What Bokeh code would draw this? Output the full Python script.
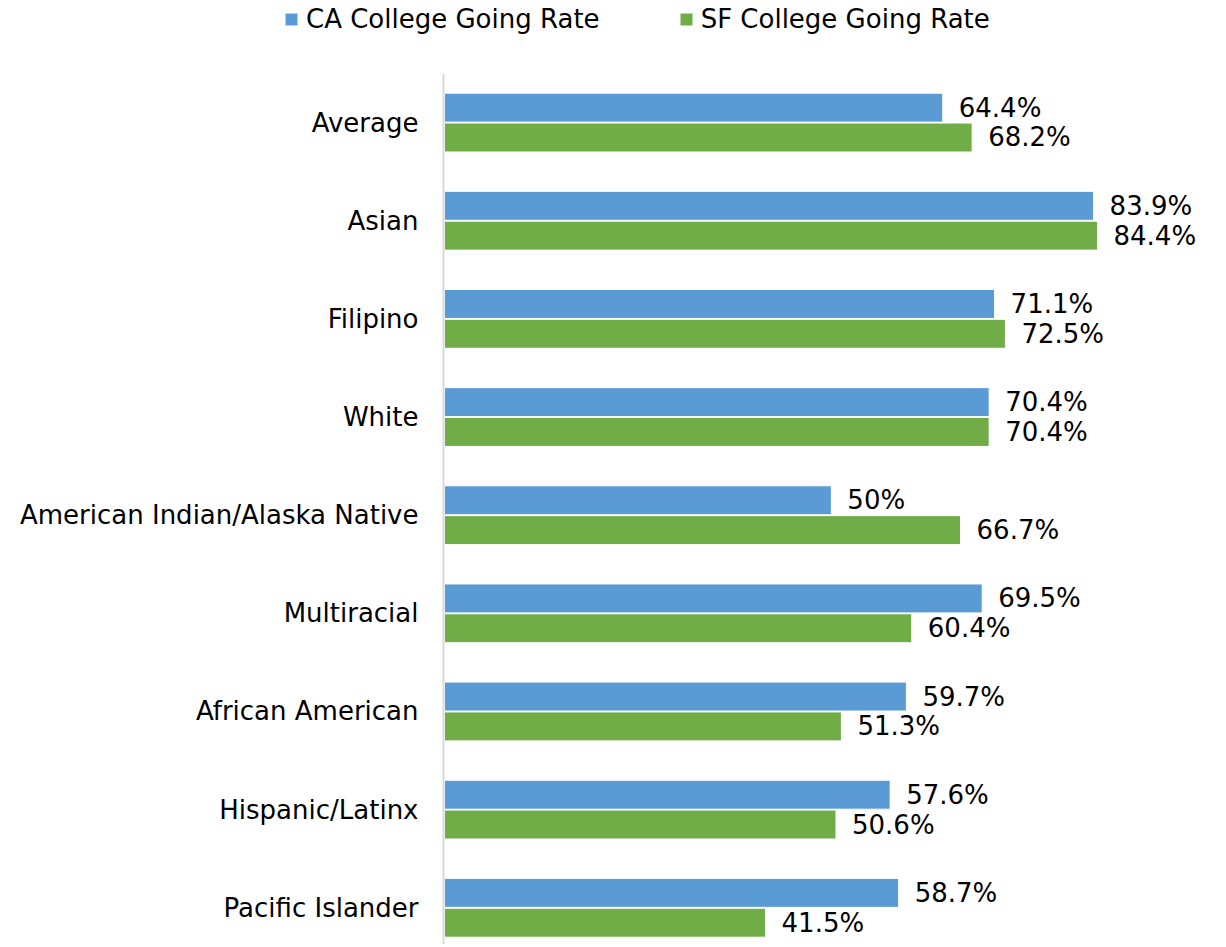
from bokeh.plotting import figure
from bokeh.layouts import column
from bokeh.models import Range1d, FixedTicker, Legend, LegendItem, ColumnDataSource
from bokeh.core.properties import value
from bokeh.embed import file_html
from bokeh.resources import INLINE

categories = ["Average", "Asian", "Filipino", "White", "American Indian/Alaska Native",
              "Multiracial", "African American", "Hispanic/Latinx", "Pacific Islander"]
ca_rate = [64.4, 83.9, 71.1, 70.4, 50.0, 69.5, 59.7, 57.6, 58.7]
sf_rate = [68.2, 84.4, 72.5, 70.4, 66.7, 60.4, 51.3, 50.6, 41.5]
series_names = ["CA College Going Rate", "SF College Going Rate"]
series_colors = ["#5B9BD5", "#70AD47"]

FONT = "DejaVu Sans"
W = 1220

idx = list(range(len(categories)))
ca_src = ColumnDataSource(dict(y=[i - 0.152 for i in idx], v=ca_rate,
                               lbl=[f"{v:g}%" for v in ca_rate]))
sf_src = ColumnDataSource(dict(y=[i + 0.152 for i in idx], v=sf_rate,
                               lbl=[f"{v:g}%" for v in sf_rate]))
sources = (ca_src, sf_src)

# ---------------- legend strip (zero-size square markers of the series, used only for the key) ----------------
leg = figure(width=W, height=73, output_backend="svg", toolbar_location=None,
             x_range=Range1d(0, 100), y_range=Range1d(-0.5, 8.5),
             x_axis_type=None, y_axis_type=None, frame_align=False,
             min_border_left=0, min_border_right=0, min_border_top=0, min_border_bottom=0)
leg.outline_line_color = None
leg.xgrid.visible = False
leg.ygrid.visible = False
leg_items = []
for name, col, src in zip(series_names, series_colors, sources):
    r = leg.scatter(x="v", y="y", size=0, marker="square", source=src,
                    fill_color=col, line_color=None)
    leg_items.append(LegendItem(label=name, renderers=[r]))
legend = Legend(items=leg_items, location=(276, 39), orientation="horizontal",
                glyph_width=30, glyph_height=30, label_standoff=0, spacing=71,
                padding=0, margin=0, border_line_color=None, background_fill_alpha=0,
                label_text_font=FONT, label_text_font_size="26px", label_text_color="#000000")
leg.add_layout(legend, "center")

# ---------------- main chart ----------------
p = figure(width=W, height=871, output_backend="svg", toolbar_location=None,
           x_range=Range1d(-0.13, 100.3), y_range=Range1d(8.374, -0.5), frame_align=False,
           min_border_left=443, min_border_right=0, min_border_top=0, min_border_bottom=0)

for src, col in zip(sources, series_colors):
    p.hbar(y="y", right="v", left=0, height=0.295, source=src,
           fill_color=col, line_color="white", line_width=1)
    p.text(x="v", y="y", text="lbl", source=src, x_offset=16,
           text_baseline="middle", text_align="left",
           text_font=value(FONT), text_font_size="26px", text_color="#000000")

p.xaxis.visible = False
p.xgrid.visible = False
p.ygrid.visible = False
p.outline_line_color = None

ya = p.yaxis[0]
ya.ticker = FixedTicker(ticks=idx)
ya.major_label_overrides = {i: c for i, c in zip(idx, categories)}
ya.axis_line_color = "#D9D9D9"
ya.axis_line_width = 2
ya.major_tick_line_color = None
ya.minor_tick_line_color = None
ya.major_tick_out = 0
ya.major_tick_in = 0
ya.major_label_standoff = 25
ya.major_label_text_font = FONT
ya.major_label_text_font_size = "26px"
ya.major_label_text_color = "#000000"

layout = column(leg, p, spacing=0)
open("out.html", "w").write(file_html(layout, INLINE))
